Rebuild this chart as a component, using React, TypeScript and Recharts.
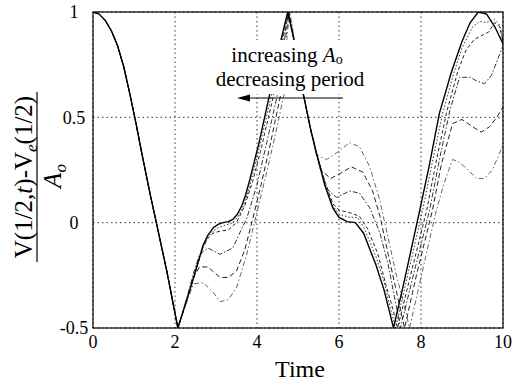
import React from 'react';
import { LineChart, Line, XAxis, YAxis, CartesianGrid } from 'recharts';

const FONT = '"Liberation Serif", "Times New Roman", Times, serif';
const W = 514;
const H = 384;

// Tick labels
const xTicks = [0, 2, 4, 6, 8, 10];
const yTicks = [-0.5, 0, 0.5, 1];

// Shared initial segment (all curves coincide up to the first minimum)
const headT = [0, 0.15, 0.3, 0.45, 0.6, 0.75, 0.9, 1.05, 1.2, 1.4, 1.6, 1.8, 2.07];
const headV = [1, 0.99, 0.96, 0.91, 0.84, 0.74, 0.61, 0.47, 0.32, 0.13, -0.05, -0.23, -0.5];

// Series 1 (solid)
const s1T = [2.2, 2.44, 2.68, 2.8, 2.93, 3.05, 3.17, 3.3, 3.41, 3.52, 3.63, 3.72, 3.82, 4.05, 4.31, 4.6, 4.75, 4.9, 5.12, 5.3, 5.45, 5.65, 5.85, 6.0, 6.2, 6.4, 6.6, 6.9, 7.1, 7.33, 7.6, 7.97, 8.2, 8.45, 8.75, 9.0, 9.2, 9.4, 9.6, 9.8, 10];
const s1V = [-0.42, -0.27, -0.11, -0.06, -0.025, -0.008, 0, 0.005, 0.015, 0.04, 0.08, 0.13, 0.2, 0.38, 0.61, 0.88, 1.0, 0.87, 0.62, 0.45, 0.33, 0.18, 0.07, 0.025, 0.005, 0, -0.05, -0.2, -0.32, -0.5, -0.27, 0.06, 0.27, 0.52, 0.72, 0.86, 0.95, 1.0, 0.99, 0.93, 0.85];

// Series 2 (dotted)
const s2T = [2.2, 2.44, 2.68, 2.8, 2.93, 3.05, 3.17, 3.3, 3.41, 3.52, 3.63, 3.72, 3.82, 4.05, 4.36, 4.62, 4.75, 4.9, 5.12, 5.3, 5.45, 5.65, 5.85, 6.0, 6.26, 6.45, 6.6, 6.9, 7.1, 7.22, 7.38, 7.65, 8.04, 8.28, 8.53, 8.8, 9.0, 9.26, 9.43, 9.6, 9.79, 9.91, 10];
const s2V = [-0.42, -0.27, -0.115, -0.07, -0.04, -0.025, -0.015, -0.008, 0, 0.025, 0.06, 0.11, 0.17, 0.35, 0.61, 0.88, 1.0, 0.87, 0.62, 0.45, 0.33, 0.19, 0.08, 0.04, 0.025, 0.025, -0.02, -0.16, -0.28, -0.38, -0.5, -0.27, 0.06, 0.29, 0.52, 0.71, 0.83, 0.93, 0.955, 0.95, 0.965, 0.94, 0.87];

// Series 3 (short dash)
const s3T = [2.2, 2.44, 2.68, 2.8, 2.93, 3.1, 3.3, 3.5, 3.7, 3.9, 4.1, 4.41, 4.64, 4.76, 4.9, 5.12, 5.3, 5.45, 5.65, 5.85, 6.0, 6.3, 6.5, 6.7, 6.95, 7.15, 7.3, 7.43, 7.72, 8.14, 8.38, 8.62, 8.9, 9.1, 9.3, 9.5, 9.65, 9.8, 9.92, 10];
const s3V = [-0.42, -0.27, -0.12, -0.075, -0.05, -0.04, -0.035, 0, 0.08, 0.2, 0.35, 0.61, 0.88, 1.0, 0.87, 0.62, 0.45, 0.33, 0.2, 0.09, 0.06, 0.045, 0.03, -0.03, -0.15, -0.3, -0.4, -0.5, -0.27, 0.06, 0.3, 0.52, 0.72, 0.82, 0.87, 0.89, 0.905, 0.95, 0.93, 0.86];

// Series 4 (dash-dot)
const s4T = [2.3, 2.45, 2.6, 2.8, 3.1, 3.41, 3.6, 3.75, 4.0, 4.25, 4.5, 4.67, 4.77, 4.9, 5.12, 5.3, 5.45, 5.7, 5.94, 6.26, 6.5, 6.75, 7.0, 7.2, 7.35, 7.5, 7.8, 8.21, 8.45, 8.7, 8.94, 9.2, 9.38, 9.55, 9.72, 9.92, 10];
const s4V = [-0.35, -0.24, -0.15, -0.12, -0.15, -0.12, -0.04, 0.02, 0.18, 0.39, 0.61, 0.88, 1.0, 0.87, 0.62, 0.45, 0.33, 0.16, 0.12, 0.15, 0.14, 0.07, -0.05, -0.2, -0.35, -0.5, -0.26, 0.06, 0.3, 0.53, 0.69, 0.69, 0.67, 0.66, 0.7, 0.8, 0.84];

// Series 5 (long dash)
const s5T = [2.3, 2.45, 2.6, 2.8, 3.1, 3.3, 3.5, 3.7, 3.9, 4.1, 4.3, 4.58, 4.7, 4.78, 4.9, 5.12, 5.3, 5.45, 5.55, 5.8, 6.09, 6.3, 6.58, 6.82, 7.0, 7.2, 7.45, 7.6, 7.9, 8.28, 8.5, 8.77, 9.0, 9.26, 9.47, 9.67, 9.85, 10];
const s5V = [-0.36, -0.26, -0.21, -0.21, -0.26, -0.26, -0.23, -0.13, 0.02, 0.18, 0.35, 0.61, 0.88, 1.0, 0.87, 0.62, 0.45, 0.33, 0.25, 0.21, 0.24, 0.265, 0.24, 0.15, 0.03, -0.15, -0.37, -0.5, -0.24, 0.06, 0.28, 0.47, 0.49, 0.455, 0.43, 0.455, 0.5, 0.55];

// Series 6 (grey dash-dot, largest deviation)
const s6T = [2.3, 2.45, 2.69, 2.93, 3.1, 3.3, 3.5, 3.75, 4.0, 4.25, 4.45, 4.66, 4.73, 4.8, 4.92, 5.12, 5.3, 5.45, 5.7, 6.0, 6.26, 6.5, 6.75, 6.99, 7.15, 7.4, 7.6, 7.72, 8.0, 8.35, 8.55, 8.77, 8.9, 9.1, 9.35, 9.55, 9.74, 9.96, 10];
const s6V = [-0.37, -0.29, -0.285, -0.33, -0.375, -0.365, -0.31, -0.15, 0.05, 0.25, 0.42, 0.61, 0.88, 1.0, 0.86, 0.62, 0.45, 0.32, 0.3, 0.34, 0.38, 0.36, 0.265, 0.11, -0.03, -0.25, -0.4, -0.5, -0.26, 0.04, 0.18, 0.3, 0.29, 0.26, 0.21, 0.21, 0.25, 0.35, 0.37];

const build = (T: number[], V: number[]) => {
  const tt = [...headT, ...T];
  const vv = [...headV, ...V];
  return tt.map((t, i) => ({ t, v: vv[i] }));
};

const series = [
  { key: 's6', data: build(s6T, s6V), color: '#666', w: 1, dash: '5 2.5 1.5 2.5' },
  { key: 's5', data: build(s5T, s5V), color: '#222', w: 1, dash: '5 3' },
  { key: 's4', data: build(s4T, s4V), color: '#333', w: 1, dash: '5 2 1.5 2' },
  { key: 's3', data: build(s3T, s3V), color: '#222', w: 1, dash: '3.5 2.5' },
  { key: 's2', data: build(s2T, s2V), color: '#333', w: 1, dash: '1.5 2' },
  { key: 's1', data: build(s1T, s1V), color: '#000', w: 1.4, dash: undefined as string | undefined },
];

const YTick = (props: any) => {
  const { y, payload } = props;
  return (
    <text x={74} y={y} dy="0.35em" textAnchor="middle" fontSize={18} fontFamily={FONT} fill="#000">
      {String(payload.value)}
    </text>
  );
};

export default function App() {
  return (
    <div style={{ position: 'absolute', left: 0, top: 0, width: W, height: H, background: '#fff' }}>
      <LineChart
        width={W}
        height={H}
        margin={{ top: 12, right: 11, bottom: 26, left: 33 }}
        style={{ position: 'absolute', left: 0, top: 0 }}
      >
        <CartesianGrid stroke="#000" strokeDasharray="1.5 3" strokeWidth={0.8} />
        <XAxis
          type="number"
          dataKey="t"
          domain={[0, 10]}
          ticks={xTicks}
          allowDataOverflow
          axisLine={false}
          tickLine={false}
          tickSize={0}
          tickMargin={7}
          height={30}
          tick={{ fill: '#000', fontSize: 18, fontFamily: FONT }}
        />
        <YAxis
          type="number"
          domain={[-0.5, 1]}
          ticks={yTicks}
          allowDataOverflow
          axisLine={false}
          tickLine={false}
          width={60}
          tick={<YTick />}
        />
        {series.map((s) => (
          <Line
            key={s.key}
            data={s.data}
            dataKey="v"
            type="linear"
            dot={false}
            activeDot={false}
            stroke={s.color}
            strokeWidth={s.w}
            strokeDasharray={s.dash}
            isAnimationActive={false}
          />
        ))}
      </LineChart>
      <svg width={W} height={H} style={{ position: 'absolute', left: 0, top: 0, pointerEvents: 'none' }}>
        <rect x={93} y={12} width={410} height={316} fill="none" stroke="#000" strokeWidth={1.2} />
        <rect x={211} y={40} width={160} height={54} fill="#fff" />
        <text x={287} y={62} textAnchor="middle" fontSize={21} fontFamily={FONT} fill="#000">
          increasing <tspan fontStyle="italic">A</tspan>
          <tspan fontSize={14} dy={2}>o</tspan>
        </text>
        <text x={290} y={86} textAnchor="middle" fontSize={21} fontFamily={FONT} fill="#000">
          decreasing period
        </text>
        <line x1={343} y1={98} x2={248} y2={98} stroke="#000" strokeWidth={1} />
        <polygon points="237,98 250,94.5 250,101.5" fill="#000" />
        <text transform="translate(32,177) rotate(-90)" textAnchor="middle" fontSize={25} fontFamily={FONT} fill="#000">
          V(1/2,<tspan fontStyle="italic">t</tspan>)-V
          <tspan fontSize={17} fontStyle="italic" dy={5}>e</tspan>
          <tspan dy={-5}>(1/2)</tspan>
        </text>
        <line x1={37} y1={92} x2={37} y2={262} stroke="#000" strokeWidth={1.2} />
        <text transform="translate(61,176) rotate(-90)" textAnchor="middle" fontSize={25} fontFamily={FONT} fill="#000">
          <tspan fontStyle="italic">A</tspan>
          <tspan fontSize={17} fontStyle="italic" dy={5}>o</tspan>
        </text>
        <text x={300} y={377} textAnchor="middle" fontSize={24} fontFamily={FONT} fill="#000">
          Time
        </text>
      </svg>
    </div>
  );
}
